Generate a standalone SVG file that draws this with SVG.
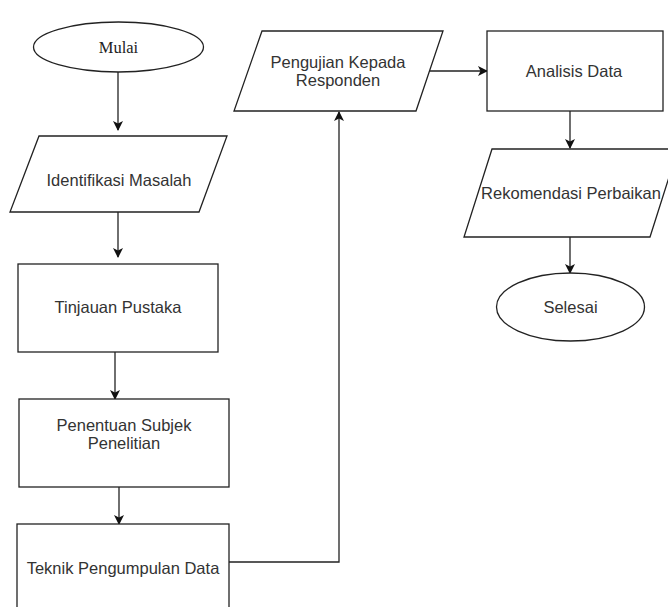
<svg xmlns="http://www.w3.org/2000/svg" width="668" height="607" viewBox="0 0 668 607">
<defs>
<marker id="arr" viewBox="0 0 10 10" refX="9" refY="5" markerWidth="10" markerHeight="10" markerUnits="userSpaceOnUse" orient="auto">
<path d="M0,0 L10,5 L0,10 L2.5,5 Z" fill="#111"/>
</marker>
<style>
.s{fill:#fff;stroke:#222;stroke-width:1.3}
.t{font-family:"Liberation Sans",Arial,sans-serif;font-size:16.5px;fill:#333;text-anchor:middle;dominant-baseline:central}
.m{font-family:"Liberation Serif","Times New Roman",serif;font-size:16.5px;fill:#222;text-anchor:middle;dominant-baseline:central}
.c{fill:none;stroke:#222;stroke-width:1.3;marker-end:url(#arr)}
</style>
</defs>
<rect width="668" height="607" fill="#fff"/>
<g id="connectors">
<path class="c" d="M118,72 L118,130"/>
<path class="c" d="M118,212 L118,257"/>
<path class="c" d="M115,352 L115,399"/>
<path class="c" d="M119,487 L119,524"/>
<path class="c" d="M229,562 L339,562 L339,112"/>
<path class="c" d="M430,71 L487,71"/>
<path class="c" d="M570,111 L570,148"/>
<path class="c" d="M570,237 L570,273"/>
</g>
<g id="mulai">
<ellipse class="s" cx="118.5" cy="47" rx="85" ry="25"/>
<text class="m" x="118.5" y="47">Mulai</text>
</g>
<g id="identifikasi">
<polygon class="s" points="39,136 227,136 199,212 10,212"/>
<text class="t" x="119" y="180">Identifikasi Masalah</text>
</g>
<g id="tinjauan">
<rect class="s" x="18" y="264" width="200" height="88"/>
<text class="t" x="118" y="307">Tinjauan Pustaka</text>
</g>
<g id="penentuan">
<rect class="s" x="19" y="399" width="210" height="88"/>
<text class="t" x="124" y="425">Penentuan Subjek</text>
<text class="t" x="124" y="443">Penelitian</text>
</g>
<g id="teknik">
<rect class="s" x="17" y="524" width="212" height="100"/>
<text class="t" x="123" y="568">Teknik Pengumpulan Data</text>
</g>
<g id="pengujian">
<polygon class="s" points="262,31 443,31 416,111 234,111"/>
<text class="t" x="338" y="62">Pengujian Kepada</text>
<text class="t" x="338" y="80">Responden</text>
</g>
<g id="analisis">
<rect class="s" x="487" y="31" width="176" height="80"/>
<text class="t" x="574" y="71">Analisis Data</text>
</g>
<g id="rekomendasi">
<polygon class="s" points="492,149 678,149 650,237 464,237"/>
<text class="t" x="571" y="193">Rekomendasi Perbaikan</text>
</g>
<g id="selesai">
<ellipse class="s" cx="570.5" cy="307" rx="74" ry="34"/>
<text class="t" x="570.5" y="307">Selesai</text>
</g>
</svg>
